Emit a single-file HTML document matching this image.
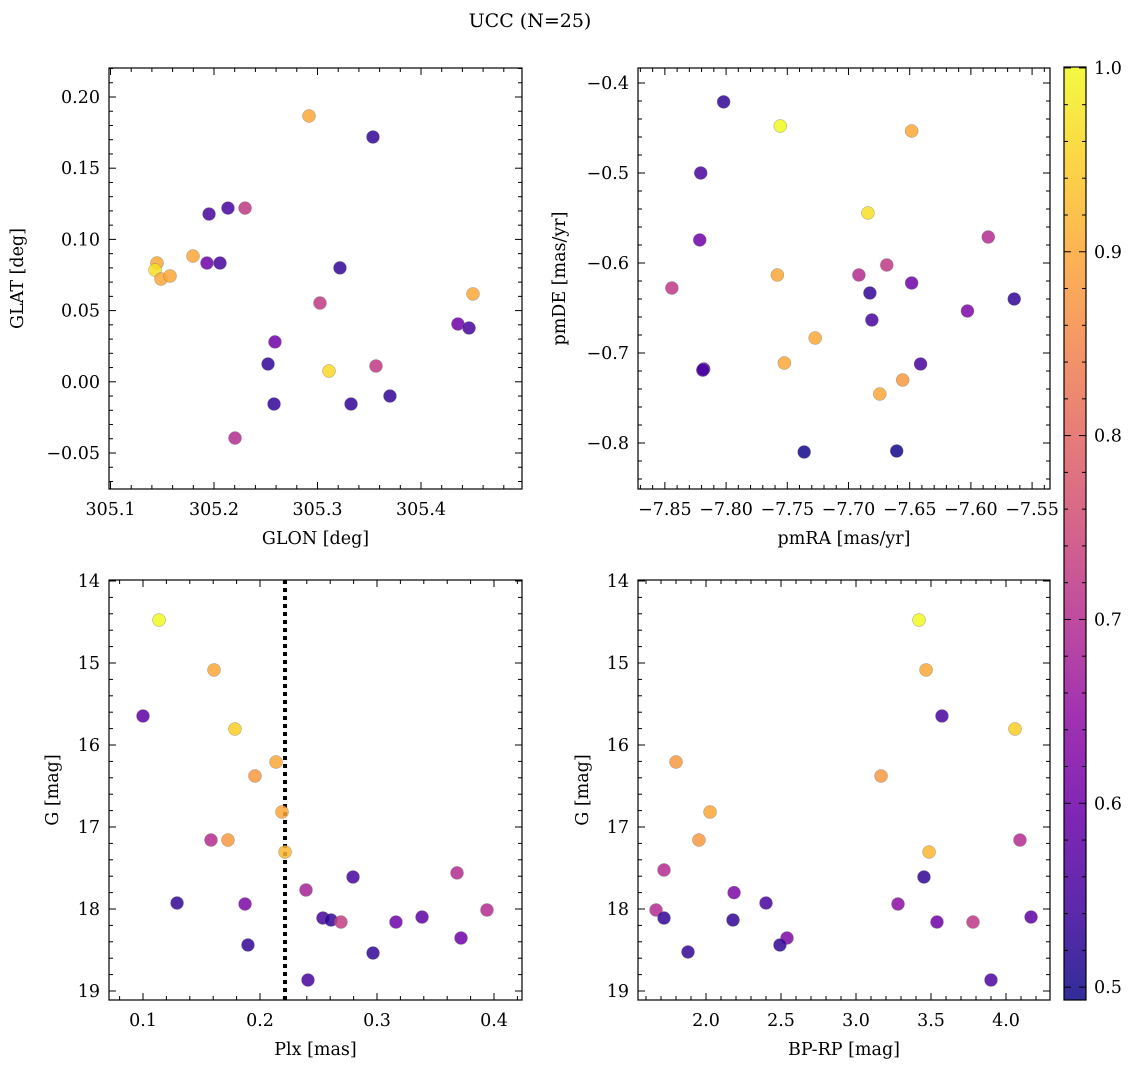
<!DOCTYPE html>
<html><head><meta charset="utf-8"><style>
body{margin:0;background:#fff;}
svg{display:block;font-family:"DejaVu Serif","Liberation Serif",serif;}
</style></head><body>
<svg id="fig" width="1136" height="1067" viewBox="0 0 1136 1067" xmlns="http://www.w3.org/2000/svg">
<text x="530" y="27" font-size="19" text-anchor="middle">UCC (N=25)</text>
</svg>
<script>
// Panel data
const glon = [305.2918,305.3536,305.2135,305.1952,305.2300,305.1449,305.1797,305.1932,305.2058,305.1430,305.1488,305.1575,305.3217,305.3024,305.4502,305.4357,305.4464,305.2589,305.2522,305.3111,305.3565,305.3700,305.2580,305.3324,305.2203];
const glat = [0.1867,0.1719,0.122,0.1178,0.122,0.0834,0.0883,0.0834,0.0834,0.0785,0.0722,0.0743,0.08,0.0553,0.0617,0.0406,0.0378,0.028,0.0125,0.0076,0.0111,-0.0100,-0.0156,-0.0156,-0.0395];
const cTL = [0.9,0.53,0.55,0.55,0.72,0.9,0.9,0.6,0.55,0.97,0.9,0.9,0.53,0.72,0.9,0.6,0.55,0.6,0.53,0.96,0.72,0.53,0.53,0.53,0.7];

const pmra = [-7.802,-7.7557,-7.6484,-7.8207,-7.6841,-7.8215,-7.5858,-7.7581,-7.8443,-7.6915,-7.6687,-7.6825,-7.6484,-7.5646,-7.6809,-7.6028,-7.7272,-7.7524,-7.6411,-7.8183,-7.6557,-7.6744,-7.7362,-7.6606,-7.8190];
const pmde = [-0.421,-0.4478,-0.4533,-0.5,-0.5444,-0.5744,-0.5711,-0.6133,-0.6278,-0.6133,-0.6022,-0.6333,-0.6222,-0.64,-0.6633,-0.6533,-0.6833,-0.7111,-0.7122,-0.7178,-0.73,-0.7456,-0.81,-0.8089,-0.7190];
const cTR = [0.53,1.0,0.9,0.55,0.97,0.6,0.7,0.9,0.72,0.7,0.72,0.53,0.6,0.53,0.55,0.62,0.9,0.9,0.55,0.58,0.88,0.9,0.5,0.5,0.55];

const plx = [0.1137,0.1607,0.1,0.1786,0.2137,0.1957,0.2188,0.2214,0.1581,0.1726,0.2393,0.2795,0.3684,0.1291,0.1872,0.2538,0.2607,0.2692,0.3162,0.3385,0.394,0.3718,0.1897,0.2966,0.241];
const gBL = [14.476,15.085,15.646,15.805,16.207,16.378,16.817,17.305,17.159,17.159,17.768,17.61,17.56,17.927,17.939,18.11,18.134,18.159,18.159,18.098,18.012,18.354,18.439,18.537,18.866];
const cBL = [1.0,0.9,0.58,0.95,0.9,0.88,0.9,0.92,0.7,0.88,0.68,0.55,0.7,0.53,0.62,0.55,0.53,0.73,0.6,0.58,0.7,0.6,0.53,0.53,0.55];
const plxLine = 0.2214;

const bprp = [3.42,3.467,3.573,4.06,1.8,3.167,2.027,1.953,3.487,4.093,1.72,3.453,2.187,2.4,3.28,1.667,1.72,2.18,3.54,3.78,4.167,2.54,2.493,1.88,3.9];
const gBR = [14.476,15.085,15.646,15.805,16.207,16.378,16.817,17.159,17.305,17.159,17.524,17.61,17.8,17.927,17.939,18.012,18.11,18.134,18.159,18.159,18.098,18.354,18.439,18.524,18.866];
const cBR = [1.0,0.9,0.55,0.95,0.88,0.88,0.9,0.88,0.92,0.7,0.7,0.53,0.62,0.55,0.64,0.7,0.53,0.53,0.6,0.72,0.58,0.62,0.53,0.53,0.56];

const cbTicks = [0.5,0.6,0.7,0.8,0.9,1.0];
const cmin = 0.493, cmax = 1.0005;

const NS = "http://www.w3.org/2000/svg";
const svg = document.getElementById('fig');
function mk(tag, attrs, parent){ const e=document.createElementNS(NS,tag); for(const k in attrs) e.setAttribute(k,attrs[k]); (parent||svg).appendChild(e); return e; }

const stops = ["#0d0887","#41049d","#6a00a8","#8f0da4","#b12a90","#cc4778","#e16462","#f2844b","#fca636","#fcce25","#f0f921"];
function hex(h){return [parseInt(h.slice(1,3),16),parseInt(h.slice(3,5),16),parseInt(h.slice(5,7),16)];}
function plasma(v){
  let t=(v-cmin)/(cmax-cmin); t=Math.max(0,Math.min(1,t));
  const f=t*10, i=Math.min(9,Math.floor(f)), r=f-i;
  const a=hex(stops[i]), b=hex(stops[i+1]);
  return `rgb(${a.map((x,k)=>Math.round(x+(b[k]-x)*r)).join(',')})`;
}

function fmt(v, d){ const s=Math.abs(v).toFixed(d); return (v<-1e-9?'\u2212':'')+s; }

function panel(name, L,T,R,B, xmin,xmax,ymin,ymax, invertY, xMaj,xMin,yMaj,yMin, xDec,yDec, xlabel,ylabel, xs,ys,cs, extra){
  const g=mk('g',{});
  const sx=v=>L+(v-xmin)/(xmax-xmin)*(R-L);
  const sy=v=> invertY ? T+(v-ymin)/(ymax-ymin)*(B-T) : B-(v-ymin)/(ymax-ymin)*(B-T);
  if(extra) extra(g,sx,sy);
  for(let i=0;i<xs.length;i++){
    const c=mk('circle',{cx:sx(xs[i]),cy:sy(ys[i]),r:6.5,fill:plasma(cs[i]),'fill-opacity':0.85,stroke:'#777','stroke-width':0.5,'stroke-opacity':0.7},g);
    
    
  }
  const ax=mk('g',{},g);
  
  
  mk('rect',{x:L,y:T,width:R-L,height:B-T,fill:'none',stroke:'#000','stroke-width':1.2},ax);
  const eps=1e-9;
  const x0=Math.ceil(xmin/xMin-eps);
  for(let k=x0;k*xMin<=xmax+eps;k++){
    const v=k*xMin, px=sx(v);
    const major=Math.abs(v/xMaj-Math.round(v/xMaj))<1e-6;
    const len=major?7:4;
    mk('line',{x1:px,y1:B,x2:px,y2:B-len,stroke:'#000','stroke-width':1},ax);
    mk('line',{x1:px,y1:T,x2:px,y2:T+len,stroke:'#000','stroke-width':1},ax);
    if(major){ const t=mk('text',{x:px,y:B+26,'font-size':17.5,'text-anchor':'middle'},ax); t.textContent=fmt(v,xDec);
        }
  }
  const y0=Math.ceil(ymin/yMin-eps);
  for(let k=y0;k*yMin<=ymax+eps;k++){
    const v=k*yMin, py=sy(v);
    const major=Math.abs(v/yMaj-Math.round(v/yMaj))<1e-6;
    const len=major?7:4;
    mk('line',{x1:L,y1:py,x2:L+len,y2:py,stroke:'#000','stroke-width':1},ax);
    mk('line',{x1:R,y1:py,x2:R-len,y2:py,stroke:'#000','stroke-width':1},ax);
    if(major){ const t=mk('text',{x:L-9,y:py+6,'font-size':17.5,'text-anchor':'end'},ax); t.textContent=fmt(v,yDec);
        }
  }
  const xl=mk('text',{x:(L+R)/2,y:B+55,'font-size':17.5,'text-anchor':'middle'},ax); xl.textContent=xlabel;
   
  const yx = ylabel.x, yl=mk('text',{x:yx,y:(T+B)/2,'font-size':17.5,'text-anchor':'middle',transform:`rotate(-90 ${yx} ${(T+B)/2})`},ax); yl.textContent=ylabel.t;
   
}

panel('panel-glon-glat',109,68,522,489, 305.1-1.5/1035,305.1+411.5/1035, -0.05-36/1424,0.2+29/1424, false, 0.1,0.02,0.05,0.01, 1,2,'GLON [deg]',{x:23,t:'GLAT [deg]'}, glon,glat,cTL);
panel('panel-pm',638,68,1050,489, -7.85-27/1230,-7.55+18/1230, -0.8-46/900,-0.4+15/900, false, 0.05,0.01,0.1,0.02, 2,1,'pmRA [mas/yr]',{x:565,t:'pmDE [mas/yr]'}, pmra,pmde,cTR);
panel('panel-plx-g',109,580,522,1000, 0.1-34/1170,0.1+379/1170, 14-1/82,14+419/82, true, 0.1,0.02,1,0.2, 1,0,'Plx [mas]',{x:58,t:'G [mag]'}, plx,gBL,cBL,
  (g,sx,sy)=>{ const l=mk('line',{x1:sx(plxLine),y1:580,x2:sx(plxLine),y2:1000,stroke:'#000','stroke-width':4,'stroke-dasharray':'4 4'},g);
      });
panel('panel-cmd',638,580,1050,1000, 2-68/150,2+344/150, 14-1/82,14+419/82, true, 0.5,0.1,1,0.2, 1,0,'BP-RP [mag]',{x:588,t:'G [mag]'}, bprp,gBR,cBR);

// colorbar
const cb=mk('g',{});


const CL=1064,CR=1086,CT=67,CB=1000;
const defs=mk('defs',{},cb);
const gr=mk('linearGradient',{id:'cbg',x1:0,y1:1,x2:0,y2:0},defs);
stops.forEach((s,i)=>mk('stop',{offset:i/10,'stop-color':s},gr));
mk('rect',{x:CL,y:CT,width:CR-CL,height:CB-CT,fill:'url(#cbg)','fill-opacity':0.85,stroke:'#000','stroke-width':1.2},cb);
const cy=v=>CB-(v-cmin)/(cmax-cmin)*(CB-CT);
for(let k=50;k<=100;k+=2){ const v=k/100, py=cy(v), major=k%10===0;
  mk('line',{x1:CR,y1:py,x2:CR-(major?7:4),y2:py,stroke:'#000','stroke-width':1},cb);
  mk('line',{x1:CL,y1:py,x2:CL+(major?7:4),y2:py,stroke:'#000','stroke-width':1},cb);
}
cbTicks.forEach(v=>{ const t=mk('text',{x:CR+8,y:cy(v)+6,'font-size':17.5},cb); t.textContent=v.toFixed(1);
    });
</script>
</body></html>
